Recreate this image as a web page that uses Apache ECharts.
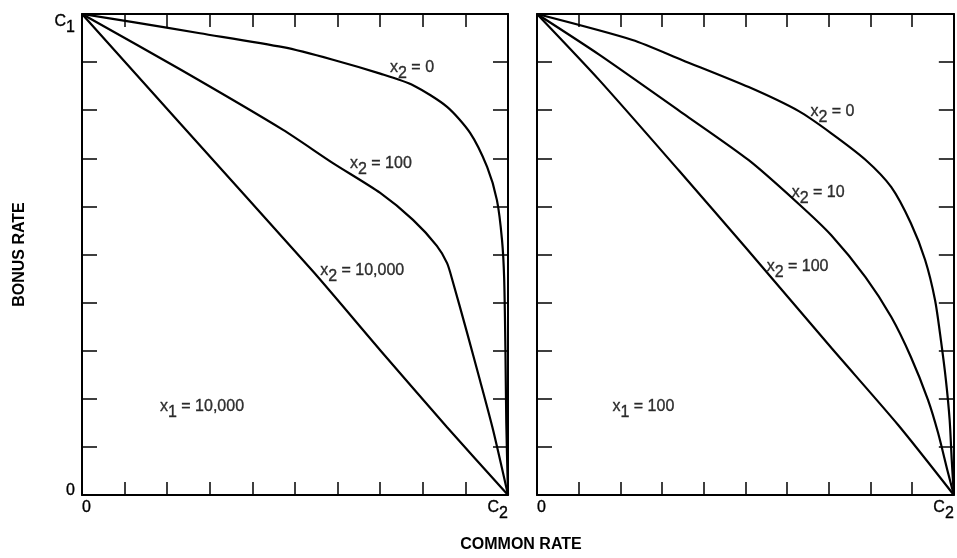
<!DOCTYPE html>
<html><head><meta charset="utf-8">
<script src="https://cdn.jsdelivr.net/npm/echarts@6/dist/echarts.min.js"></script>
<style>html,body{margin:0;padding:0;background:#fff}#c{width:957px;height:558px}</style>
</head><body><div id="c"></div>
<script>
// ---------- DATA (normalised: common rate 0..C2 -> 0..1, bonus rate 0..C1 -> 0..1) ----------
// Left panel: x1 = 10,000
const leftX2_0 = [[0,1],[0.12,0.983],[0.277,0.96],[0.472,0.931],[0.589,0.905],[0.700,0.876],[0.777,0.852],[0.857,0.807],[0.911,0.753],[0.951,0.682],[0.974,0.613],[0.986,0.530],[0.991,0.45],[0.994,0.30],[0.996,0.15],[1,0]];
const leftX2_100 = [[0,1],[0.23,0.885],[0.472,0.759],[0.589,0.690],[0.700,0.628],[0.777,0.572],[0.833,0.518],[0.857,0.482],[0.870,0.445],[0.904,0.337],[0.934,0.239],[0.965,0.135],[1,0]];
const leftX2_10000 = [[0,1],[0.23,0.773],[0.542,0.465],[0.700,0.301],[0.857,0.141],[1,0]];
// Right panel: x1 = 100
const rightX2_0 = [[0,1],[0.229,0.946],[0.349,0.904],[0.508,0.848],[0.628,0.798],[0.706,0.752],[0.788,0.697],[0.850,0.640],[0.897,0.565],[0.931,0.489],[0.955,0.405],[0.969,0.322],[0.981,0.239],[0.990,0.156],[0.995,0.073],[1,0]];
const rightX2_10 = [[0,1],[0.150,0.915],[0.349,0.794],[0.508,0.696],[0.628,0.605],[0.706,0.540],[0.788,0.453],[0.850,0.370],[0.897,0.287],[0.938,0.198],[0.962,0.130],[0.985,0.050],[1,0]];
const rightX2_100 = [[0,1],[0.150,0.862],[0.341,0.674],[0.500,0.515],[0.706,0.306],[0.866,0.146],[1,0]];

// Curve / panel annotations ( "_n" = subscript n )
const leftNoteTexts = ['x_2 = 0', 'x_2 = 100', 'x_2 = 10,000', 'x_1 = 10,000'];
const leftNoteAt = [[0.723,0.888],[0.629,0.688],[0.559,0.466],[0.183,0.183]];
const rightNoteTexts = ['x_2 = 0', 'x_2 = 10', 'x_2 = 100', 'x_1 = 100'];
const rightNoteAt = [[0.656,0.796],[0.611,0.628],[0.551,0.474],[0.181,0.183]];

// Tick labels (only the ends are labelled)
const commonRateEnds = ['0', 'C_2'];
const bonusRateEnds = ['0', 'C_1'];
const axisNames = {x: 'COMMON RATE', y: 'BONUS RATE'};

// ---------- CHART ----------
const FONT = "'Liberation Sans', Arial, Helvetica, sans-serif";
const INK = '#000';
function rich(t, key) {
  key = key || 'a';
  return t.split(/_(\d)/).map((p, i) => i % 2 ? '{s|' + p + '}' : (p ? '{' + key + '|' + p + '}' : '')).join('');
}
const base = {fontSize: 16, fontFamily: FONT, color: INK, textBorderColor: INK, textBorderWidth: 0.35, verticalAlign: 'top'};
const RICH = {
  a: Object.assign({}, base, {lineHeight: 17}),
  b: Object.assign({}, base, {lineHeight: 12}),
  s: Object.assign({}, base, {lineHeight: 17, padding: [6, 0, 0, 0]})
};
const isEnd = v => Math.abs(v - 1) < 1e-9;
const isZero = v => Math.abs(v) < 1e-9;

function xAx(grid, pos, labels) {
  return {
    gridIndex: grid, type: 'value', min: 0, max: 1, interval: 0.1, position: pos,
    axisLine: {onZero: false, lineStyle: {color: INK, width: 2}},
    axisTick: {inside: true, length: 13, lineStyle: {color: INK, width: 1.5}},
    splitLine: {show: false},
    axisLabel: labels ? {
      show: true, margin: 5, showMinLabel: true, showMaxLabel: true,
      alignMinLabel: 'left', alignMaxLabel: 'right',
      formatter: v => isZero(v) ? rich(labels[0]) : (isEnd(v) ? rich(labels[1]) : ''),
      rich: RICH
    } : {show: false}
  };
}
function yAx(grid, pos, labels, name) {
  const o = {
    gridIndex: grid, type: 'value', min: 0, max: 1, interval: 0.1, position: pos,
    axisLine: {onZero: false, lineStyle: {color: INK, width: 2}},
    axisTick: {inside: true, length: 15, lineStyle: {color: INK, width: 1.5}},
    splitLine: {show: false},
    axisLabel: labels ? {
      show: true, margin: 7, showMinLabel: true, showMaxLabel: true,
      verticalAlignMinLabel: 'bottom', verticalAlignMaxLabel: 'top',
      formatter: v => isZero(v) ? rich(labels[0], 'b') : (isEnd(v) ? rich(labels[1]) : ''),
      rich: RICH
    } : {show: false}
  };
  if (name) {
    o.name = name; o.nameLocation = 'middle'; o.nameRotate = 90; o.nameGap = 54;
    o.nameTextStyle = {fontSize: 16, fontWeight: 'bold', fontFamily: FONT, color: INK};
  }
  return o;
}
function curve(data, xi, yi) {
  return {type: 'line', data: data, xAxisIndex: xi, yAxisIndex: yi, showSymbol: false,
    smooth: 0.25, clip: true,
    lineStyle: {color: INK, width: 2.2}, emphasis: {disabled: true}, silent: true};
}
function notes(texts, at, xi, yi) {
  return {type: 'scatter', xAxisIndex: xi, yAxisIndex: yi, symbolSize: 0, silent: true, clip: false,
    data: texts.map((t, i) => ({value: at[i], name: t})),
    label: {show: true, position: 'right', distance: 0, formatter: p => rich(p.name), rich: RICH}};
}

const chart = echarts.init(document.getElementById('c'), null, {renderer: 'canvas'});
chart.setOption({
  backgroundColor: '#fff',
  animation: false,
  grid: [
    {left: 82, top: 14, width: 426, height: 481},
    {left: 537, top: 14, width: 419, height: 481}
  ],
  xAxis: [xAx(0, 'bottom', commonRateEnds), xAx(0, 'top', null), xAx(1, 'bottom', commonRateEnds), xAx(1, 'top', null)],
  yAxis: [yAx(0, 'left', bonusRateEnds, axisNames.y), yAx(0, 'right', null), yAx(1, 'left', null), yAx(1, 'right', null)],
  graphic: [{type: 'text', x: 521, y: 545, style: {text: axisNames.x, fontSize: 16, fontWeight: 'bold', fontFamily: FONT, fill: INK, align: 'center', verticalAlign: 'middle'}}],
  series: [
    curve(leftX2_0, 0, 0), curve(leftX2_100, 0, 0), curve(leftX2_10000, 0, 0),
    curve(rightX2_0, 2, 2), curve(rightX2_10, 2, 2), curve(rightX2_100, 2, 2),
    notes(leftNoteTexts, leftNoteAt, 0, 0), notes(rightNoteTexts, rightNoteAt, 2, 2)
  ]
});
</script></body></html>
